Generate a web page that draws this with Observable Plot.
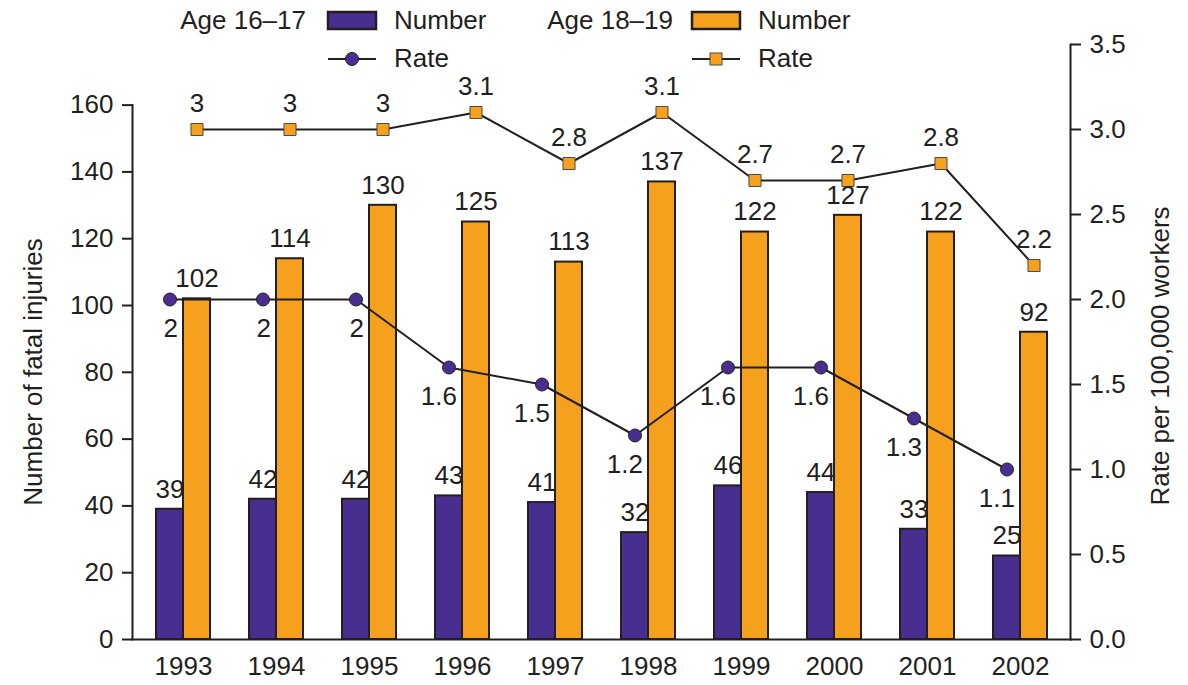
<!DOCTYPE html>
<html><head><meta charset="utf-8">
<script src="https://cdn.jsdelivr.net/npm/d3@7"></script>
<script src="https://cdn.jsdelivr.net/npm/@observablehq/plot@0.6"></script>
<style>
body{margin:0;background:#fff;}
#wrap{position:relative;width:1188px;height:685px;font-family:"Liberation Sans",Arial,Helvetica,sans-serif;}
#wrap svg{display:block;}
#legend{position:absolute;left:0;top:0;pointer-events:none;}
</style></head><body><div id="wrap"></div>
<script>
// ---- data ----
const years = [1993, 1994, 1995, 1996, 1997, 1998, 1999, 2000, 2001, 2002];
const number16 = [39, 42, 42, 43, 41, 32, 46, 44, 33, 25];
const number18 = [102, 114, 130, 125, 113, 137, 122, 127, 122, 92];
const rate16 = [2.0, 2.0, 2.0, 1.6, 1.5, 1.2, 1.6, 1.6, 1.3, 1.0];
const rate16Labels = ["2", "2", "2", "1.6", "1.5", "1.2", "1.6", "1.6", "1.3", "1.1"];
const rate18 = [3.0, 3.0, 3.0, 3.1, 2.8, 3.1, 2.7, 2.7, 2.8, 2.2];
const rate18Labels = ["3", "3", "3", "3.1", "2.8", "3.1", "2.7", "2.7", "2.8", "2.2"];
const countTicks = [0, 20, 40, 60, 80, 100, 120, 140, 160];
const rateTicks = [0, 0.5, 1.0, 1.5, 2.0, 2.5, 3.0, 3.5];
const legendGroups = ["Age 16–17", "Age 18–19"];

// ---- styling ----
const ink = "#231f20";
const purple = "#482f8f";
const orange = "#f5a11e";
const font = '"Liberation Sans", Arial, Helvetica, sans-serif';
const fs = 26;

// rate axis shares the y scale: one rate unit = k injuries
const k = 50.9;
const yMax = 3.5 * k;

const rows = years.map((y, i) => ({
  year: String(y),
  n16: number16[i], n18: number18[i],
  r16: rate16[i] * k, r18: rate18[i] * k,
  l16: rate16Labels[i], l18: rate18Labels[i]
}));

const W = 1188, H = 685, mT = 44, mB = 46, mL = 132, mR = 118;
const plotH = H - mT - mB;
const half = 13.5;

const chart = Plot.plot({
  width: W, height: H,
  marginTop: mT, marginBottom: mB, marginLeft: mL, marginRight: mR,
  style: {fontFamily: font, fontSize: fs + "px", color: ink, background: "white", overflow: "visible"},
  x: {domain: years.map(String), type: "band", paddingInner: 0.42, paddingOuter: 0.246, label: null},
  y: {domain: [0, yMax], label: null},
  marks: [
    Plot.barY(rows, {x: "year", y: "n16", fill: purple, stroke: ink, strokeWidth: 2, insetRight: 27}),
    Plot.barY(rows, {x: "year", y: "n18", fill: orange, stroke: ink, strokeWidth: 2, insetLeft: 27}),
    Plot.frame({anchor: "left", insetTop: plotH * (1 - 160 / yMax), stroke: ink, strokeWidth: 2}),
    Plot.frame({anchor: "right", stroke: ink, strokeWidth: 2}),
    Plot.frame({anchor: "bottom", stroke: ink, strokeWidth: 2}),
    Plot.axisX({tickSize: 0, tickPadding: 17, fontSize: fs, label: null, fill: ink}),
    Plot.axisY({anchor: "left", ticks: countTicks, tickSize: 10, tickPadding: 9, strokeWidth: 2, stroke: ink, fill: ink, label: null, fontSize: fs}),
    Plot.axisY({anchor: "right", ticks: rateTicks.map(r => r * k), tickFormat: d => (d / k).toFixed(1),
      tickSize: 10, tickPadding: 9, strokeWidth: 2, stroke: ink, fill: ink, label: null, fontSize: fs}),
    Plot.line(rows, {x: "year", y: "r16", stroke: ink, strokeWidth: 2, dx: -half}),
    Plot.line(rows, {x: "year", y: "r18", stroke: ink, strokeWidth: 2, dx: half}),
    Plot.dot(rows, {x: "year", y: "r16", r: 6.5, fill: purple, stroke: ink, strokeWidth: 1, dx: -half}),
    Plot.dot(rows, {x: "year", y: "r18", symbol: "square", r: 6.8, fill: orange, stroke: "#4a4a4a", strokeWidth: 1, dx: half}),
    Plot.text(rows, {x: "year", y: "n16", text: d => String(d.n16), dx: -half, dy: -20, fontSize: fs, fill: ink}),
    Plot.text(rows, {x: "year", y: "n18", text: d => String(d.n18), dx: half, dy: -20, fontSize: fs, fill: ink}),
    Plot.text(rows, {x: "year", y: "r16", text: "l16", dx: -half + 8, dy: 29, textAnchor: "end", fontSize: fs, fill: ink}),
    Plot.text(rows, {x: "year", y: "r18", text: "l18", dx: half, dy: -26, fontSize: fs, fill: ink}),
    Plot.text(["Number of fatal injuries"], {text: d => d, frameAnchor: "left", textAnchor: "middle", rotate: -90, dx: -99, dy: 30, fontSize: fs, fill: ink}),
    Plot.text(["Rate per 100,000 workers"], {text: d => d, frameAnchor: "right", textAnchor: "middle", rotate: -90, dx: 90, dy: 14, fontSize: fs, fill: ink})
  ]
});

const wrap = document.getElementById("wrap");
wrap.appendChild(chart);

// ---- legend (overlay at top) ----
const lg = d3.create("svg").attr("id", "legend").attr("width", W).attr("height", 80)
  .style("font-family", font).style("font-size", fs + "px");
const items = [
  {label: legendGroups[0], fill: purple, x0: 328, sym: "circle", labelEnd: 306},
  {label: legendGroups[1], fill: orange, x0: 692, sym: "square", labelEnd: 673}
];
for (const it of items) {
  lg.append("text").attr("x", it.labelEnd).attr("y", 29).attr("text-anchor", "end").attr("fill", ink).text(it.label);
  lg.append("rect").attr("x", it.x0).attr("y", 12).attr("width", 48).attr("height", 17)
    .attr("fill", it.fill).attr("stroke", ink).attr("stroke-width", 2.5);
  lg.append("text").attr("x", it.x0 + 66).attr("y", 29).attr("fill", ink).text("Number");
  lg.append("line").attr("x1", it.x0).attr("x2", it.x0 + 48).attr("y1", 59).attr("y2", 59)
    .attr("stroke", ink).attr("stroke-width", 2);
  if (it.sym === "circle") {
    lg.append("circle").attr("cx", it.x0 + 24).attr("cy", 59).attr("r", 6.5)
      .attr("fill", it.fill).attr("stroke", ink).attr("stroke-width", 1);
  } else {
    lg.append("rect").attr("x", it.x0 + 18).attr("y", 53).attr("width", 12).attr("height", 12)
      .attr("fill", it.fill).attr("stroke", "#4a4a4a").attr("stroke-width", 1);
  }
  lg.append("text").attr("x", it.x0 + 66).attr("y", 67).attr("fill", ink).text("Rate");
}
wrap.appendChild(lg.node());
</script>
</body></html>
